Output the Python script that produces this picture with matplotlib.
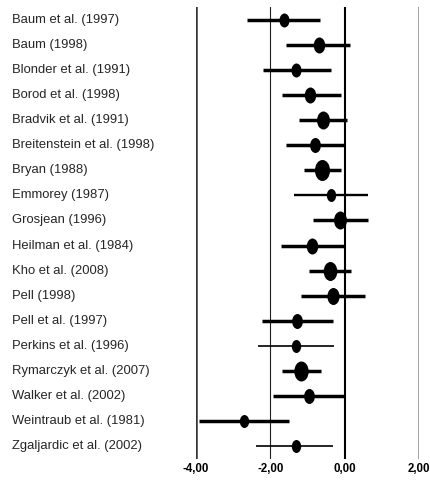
import numpy as np
import matplotlib.pyplot as plt
from matplotlib.markers import MarkerStyle
from matplotlib.transforms import Affine2D, blended_transform_factory

studies = ["Baum et al. (1997)", "Baum (1998)", "Blonder et al. (1991)",
           "Borod et al. (1998)", "Bradvik et al. (1991)", "Breitenstein et al. (1998)",
           "Bryan (1988)", "Emmorey (1987)", "Grosjean (1996)", "Heilman et al. (1984)",
           "Kho et al. (2008)", "Pell (1998)", "Pell et al. (1997)", "Perkins et al. (1996)",
           "Rymarczyk et al. (2007)", "Walker et al. (2002)", "Weintraub et al. (1981)",
           "Zgaljardic et al. (2002)"]
effect = [-1.64, -0.70, -1.31, -0.92, -0.58, -0.79, -0.61, -0.38, -0.12, -0.88,
          -0.40, -0.31, -1.28, -1.31, -1.17, -0.96, -2.70, -1.32]
lower = [-2.63, -1.57, -2.21, -1.69, -1.24, -1.57, -1.10, -1.37, -0.85, -1.70,
         -0.95, -1.17, -2.22, -2.33, -1.69, -1.93, -3.91, -2.38]
upper = [-0.67, 0.15, -0.37, -0.10, 0.05, 0.00, -0.10, 0.62, 0.62, 0.00,
         0.17, 0.56, -0.32, -0.28, -0.63, 0.00, -1.49, -0.31]
# marker height (px) roughly following study weight
msize = [14, 16, 14, 16, 18, 15, 21, 13, 18, 16, 19, 17, 15, 13, 20, 15, 13, 13]
lwidth = [2.5, 2.5, 2.5, 2.5, 2.5, 2.5, 2.5, 1.7, 2.5, 2.5, 2.5, 2.5, 2.5, 1.2, 2.5, 2.5, 2.5, 1.2]
xticks = [-4, -2, 0, 2]
xticklabels = ["-4,00", "-2,00", "0,00", "2,00"]

plt.rcParams['font.family'] = ['Liberation Sans', 'DejaVu Sans']

fig = plt.figure(figsize=(4.31, 4.88), dpi=100)
ax = fig.add_axes([196 / 431, 1 - 459 / 488, 223 / 431, 452 / 488])
n = len(studies)
ax.set_xlim(-4, 2)
ax.set_ylim(n - 0.48, -0.52)
for s in ax.spines.values():
    s.set_visible(False)

# reference lines
ax.axvline(-4, color="#333333", lw=1.8)
ax.axvline(-2, color="#222222", lw=0.8)
ax.axvline(0, color="black", lw=1.5)
ax.axvline(2, color="#888888", lw=1.1)

oval = MarkerStyle("o", transform=Affine2D().scale(0.72, 1.0))
for i in range(n):
    ax.plot([lower[i], upper[i]], [i, i], color="black", lw=lwidth[i], solid_capstyle="butt")
    ax.plot(effect[i], i, marker=oval, color="black", ms=msize[i] * 0.72, mew=0)

trans = blended_transform_factory(fig.transFigure, ax.transData)
for i, name in enumerate(studies):
    ax.text(12 / 431, i, name, transform=trans, ha="left", va="center",
            fontsize=9.4, color="#262626")

ax.set_yticks([])
ax.set_xticks(xticks)
ax.set_xticklabels(xticklabels, fontsize=8.3, fontweight="bold")
ax.tick_params(axis="x", length=0, pad=3)

fig.savefig("out.png", dpi=100)
